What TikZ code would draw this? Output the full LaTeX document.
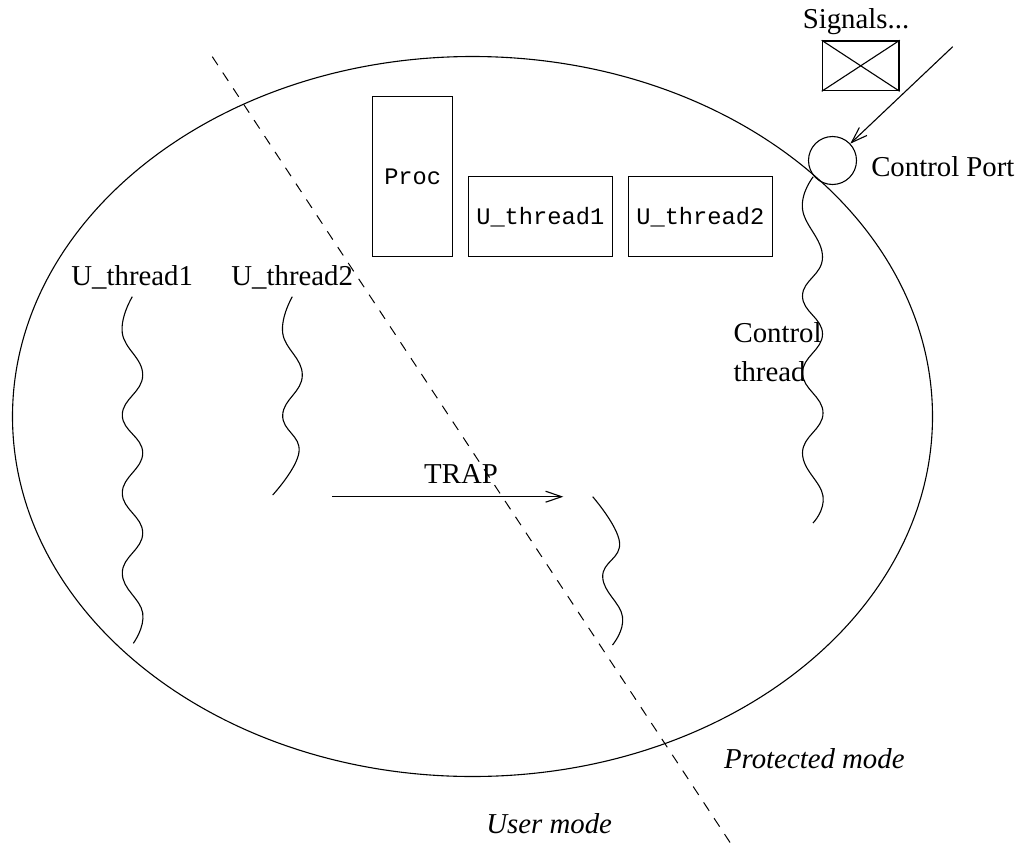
\documentclass[tikz,border=0pt]{standalone}
\usepackage{fontspec}
\setmainfont{Liberation Serif}
\setmonofont{Liberation Mono}
\usetikzlibrary{arrows.meta}
\begin{document}
\begin{tikzpicture}[x=1pt,y=-1pt,
  line width=1.1pt,
  lbl/.style={font=\fontsize{28.8}{34}\selectfont, inner sep=0pt, anchor=base},
  lblw/.style={lbl, anchor=base west},
  ilbl/.style={lbl, font=\fontsize{28.8}{34}\selectfont\itshape},
  boxnode/.style={draw, line width=1.3pt, inner sep=0pt, font=\fontsize{23.7}{28}\selectfont\ttfamily},
  arr/.style={-{Straight Barb[length=16pt,width=11pt,line width=1.1pt]}},
  squig/.style={smooth, tension=0.75},
  divider/.style={dash pattern=on 10pt off 9pt, line width=1pt}
]
\useasboundingbox (0,0) rectangle (1019,846);

% outer ellipse
\draw (472.5,416.5) ellipse [x radius=460pt, y radius=360pt];

% mode divider
\coordinate (divA) at (212.3,56.7);
\coordinate (divB) at (731.7,845);
\draw[divider] (divA) -- (divB);

% boxes
\node[boxnode, minimum width=80pt, minimum height=160pt] (proc) at (412.7,176.7) {Proc};
\node[boxnode, minimum width=144pt, minimum height=80pt] (ut1) at (540.3,216.7) {U\_thread1};
\node[boxnode, minimum width=144pt, minimum height=80pt] (ut2) at (700.3,216.7) {U\_thread2};

% signals box
\node[draw, line width=1.3pt, minimum width=76.7pt, minimum height=49.7pt, inner sep=0pt] (sig) at (860.7,65.8) {};
\draw (sig.north west) -- (sig.south east);
\draw (sig.south west) -- (sig.north east);
\node[lbl] (sigtxt) at (856,28.3) {Signals...};

% control port
\node[draw, circle, minimum size=48pt, inner sep=0pt] (port) at (832.5,160.5) {};
\coordinate (sigsrc) at (952.7,46.7);
\draw[arr] (sigsrc) -- (port);
\node[lblw] (porttxt) at (870.7,176.7) {Control Port};

% thread labels
\node[lbl] (lt1) at (132.2,285) {U\_thread1};
\node[lbl] (lt2) at (292.2,285) {U\_thread2};

% squiggles
\draw plot[squig] coordinates {(132.3,296.7) (122.3,333) (142.7,375) (122.3,415) (142.7,453) (122.3,493) (142.7,533) (122.3,573) (142.7,613) (133.3,643.3)};
\draw plot[squig] coordinates {(292.3,296.7) (282.7,333) (302.3,375) (282.7,415) (299,452) (272.7,495)};
\draw plot[squig] coordinates {(592.7,496.7) (619.5,542) (602.7,577) (622.5,616.7) (612.5,645)};
\draw plot[squig] coordinates {(813.3,176.7) (802.5,209) (822.5,257) (802.5,296) (822.5,334) (802.5,373) (823,413) (802.5,453) (823,496) (813,523)};

% control thread label
\node[lblw] (ct1) at (733,342.7) {Control};
\node[lblw] (ct2) at (733,381.7) {thread};

% TRAP
\coordinate (trapA) at (332.3,496.7);
\coordinate (trapB) at (563.3,496.7);
\draw[arr, line width=1.3pt] (trapA) -- (trapB);
\node[lbl] (trap) at (461,483.3) {TRAP};

% modes
\node[ilbl] (prot) at (814.3,768.3) {Protected mode};
\node[ilbl] (user) at (549.2,833.3) {User mode};
\end{tikzpicture}
\end{document}
